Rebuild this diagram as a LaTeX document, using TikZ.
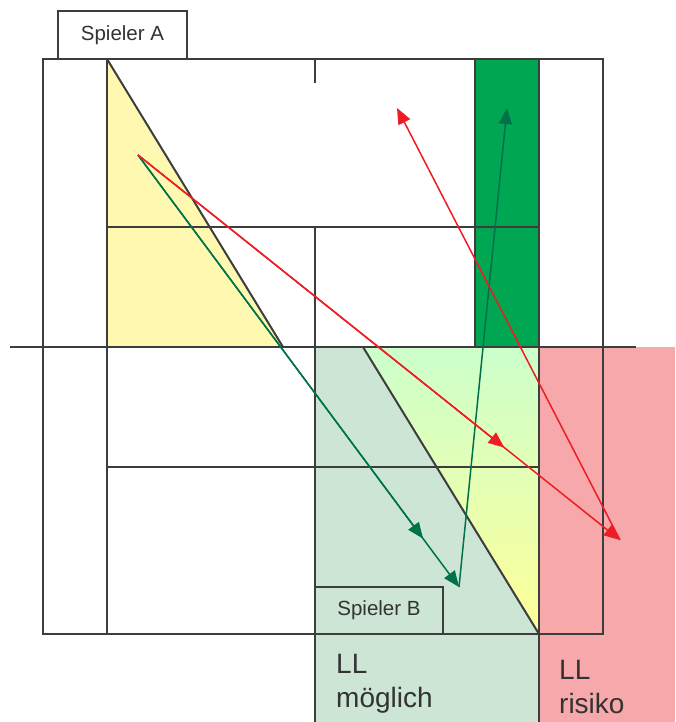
\documentclass[tikz,border=0pt]{standalone}
\usepackage{fontspec}
\setmainfont{Liberation Sans}
\usetikzlibrary{arrows.meta,positioning,calc}

\definecolor{gridgrey}{HTML}{3D3D3D}
\definecolor{textgrey}{HTML}{333333}
\definecolor{moeglich}{HTML}{CCE5D4}
\definecolor{risiko}{HTML}{F6A8AA}
\definecolor{colgreen}{HTML}{00A651}
\definecolor{softyellow}{HTML}{FFF8B0}
\definecolor{softgreen}{HTML}{CCFFCC}
\definecolor{paleyellow}{HTML}{FFFF99}
\definecolor{arrred}{HTML}{EE1C24}
\definecolor{arrgreen}{HTML}{00714A}

\tikzset{
  grid/.style={draw=gridgrey, line width=2pt},
  playerbox/.style={draw=gridgrey, line width=2pt, inner sep=0pt, text=textgrey,
    font=\fontsize{20.5}{24}\selectfont},
  lltext/.style={text=textgrey, align=left, inner sep=0pt,
    font=\fontsize{28}{34}\selectfont},
  redarrow/.style={draw=arrred, line width=1.5pt, -{Triangle[length=16pt,width=13pt]}},
  greenarrow/.style={draw=arrgreen, line width=1.5pt, -{Triangle[length=16pt,width=13pt]}}
}

\begin{document}
\begin{tikzpicture}[x=1pt, y=-1pt]
  \useasboundingbox (0,0) rectangle (675,722);

  % Areas
  \fill[moeglich] (315,347) rectangle (539,722);
  \fill[risiko] (539,347) rectangle (675,722);
  \shade[top color=softgreen, bottom color=paleyellow] (363,347) -- (539,347) -- (539,634) -- cycle;
  \fill[colgreen] (475,59) rectangle (539,347);
  \fill[softyellow] (107,59) -- (107,347) -- (283,347) -- cycle;

  % Grid
  \draw[grid] (43,59) rectangle (603,634);
  \draw[grid] (107,59) -- (107,634);
  \draw[grid] (315,59) -- (315,83);
  \draw[grid] (315,227) -- (315,722);
  \draw[grid] (475,59) -- (475,347);
  \draw[grid] (539,59) -- (539,722);
  \draw[grid] (107,227) -- (539,227);
  \draw[grid] (107,467) -- (539,467);
  \draw[grid] (10,347) -- (636,347);

  % Diagonals
  \draw[grid] (107,59) -- (283,347);
  \draw[grid] (363,347) -- (539,634);

  % Players
  \node[playerbox, fill=white, minimum width=129pt, minimum height=48pt] (spielerA) at (122.5,35) {Spieler A};
  \node[playerbox, fill=moeglich, minimum width=128pt, minimum height=47pt] (spielerB) at (379,610.5) {Spieler B};

  % Labels
  \node[lltext, anchor=base west] (llmoeglich) at (336,707) {LL\\möglich};
  \node[lltext, anchor=base west] (llrisiko) at (559,713) {LL\\risiko};

  % Moves
  \coordinate (start) at (138,155);
  \coordinate (rend) at (620,540);
  \coordinate (rmid) at ($(start)!0.76!(rend)$);
  \coordinate (rtop) at (397,108);
  \coordinate (gend) at (459,587);
  \coordinate (gmid) at ($(start)!0.888!(gend)$);
  \coordinate (gtop) at (507,108);

  \draw[greenarrow] (start) -- (gmid);
  \draw[greenarrow] (start) -- (gend);
  \draw[greenarrow] (gend) -- (gtop);
  \draw[redarrow] (start) -- (rmid);
  \draw[redarrow] (start) -- (rend);
  \draw[redarrow] (rend) -- (rtop);
\end{tikzpicture}
\end{document}
